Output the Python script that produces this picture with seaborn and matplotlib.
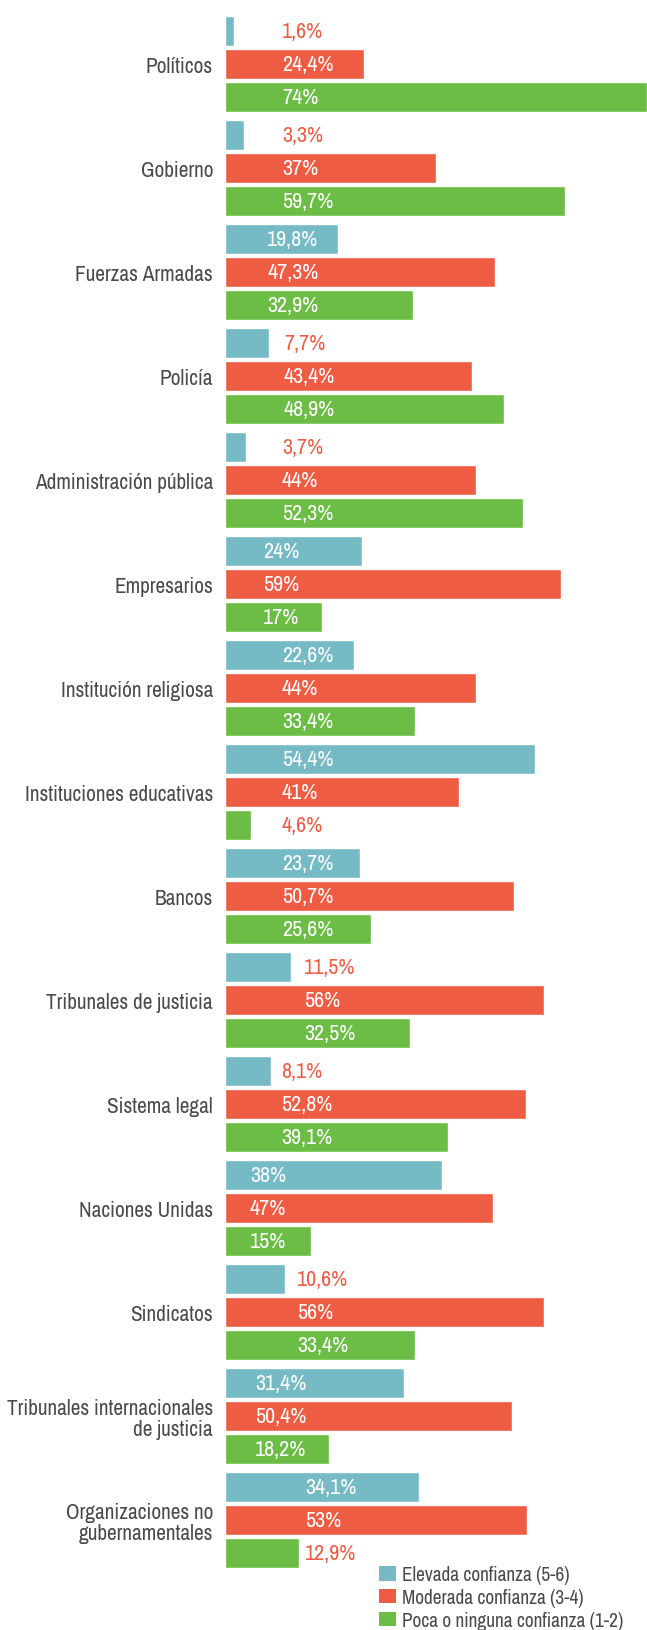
import matplotlib
matplotlib.use("Agg")
import matplotlib.pyplot as plt
from matplotlib import font_manager
from matplotlib.patches import Patch
import seaborn as sns
import pandas as pd

# --- data -------------------------------------------------------------
categorias = [
    "Políticos", "Gobierno", "Fuerzas Armadas", "Policía",
    "Administración pública", "Empresarios", "Institución religiosa",
    "Instituciones educativas", "Bancos", "Tribunales de justicia",
    "Sistema legal", "Naciones Unidas", "Sindicatos",
    "Tribunales internacionales\nde justicia",
    "Organizaciones no\ngubernamentales",
]
elevada = [1.6, 3.3, 19.8, 7.7, 3.7, 24, 22.6, 54.4, 23.7, 11.5, 8.1, 38, 10.6, 31.4, 34.1]
moderada = [24.4, 37, 47.3, 43.4, 44, 59, 44, 41, 50.7, 56, 52.8, 47, 56, 50.4, 53]
poca = [74, 59.7, 32.9, 48.9, 52.3, 17, 33.4, 4.6, 25.6, 32.5, 39.1, 15, 33.4, 18.2, 12.9]
series = ["Elevada confianza (5-6)", "Moderada confianza (3-4)", "Poca o ninguna confianza (1-2)"]

# --- layout -----------------------------------------------------------
W, H, DPI = 647, 1631, 100
AX_LEFT_PX = 225
XMAX = 74
GROUP_PX = 104          # vertical period of one category
FIRST_CENTER_PX = 65    # centre of the first category (middle bar)
# left edge (px) where each group's value labels start
label_x_px = [282, 282, 267, 284, 282, 263, 282, 282, 282, 304, 281, 250, 297, 255, 305]

colors = ["#76BAC6", "#EE5C43", "#6BBD45"]
text_gray = "#4A4A4A"
label_red = "#EE5C43"

sns.set_theme(style="white")

# prefer a condensed sans; otherwise an Arial-metric sans at a smaller size
names = sorted({f.name for f in font_manager.fontManager.ttflist})
narrow = [n for n in names if ("Narrow" in n or "Condensed" in n) and "Mono" not in n]
if narrow:
    family, fs_cat, fs_val, fs_leg = narrow[0], 15.3, 15.9, 13.9
else:
    family, fs_cat, fs_val, fs_leg = "Liberation Sans", 12.9, 13.3, 12.4
plt.rcParams["font.family"] = [family, "DejaVu Sans"]

rows = []
for i, c in enumerate(categorias):
    for s, vals in zip(series, (elevada, moderada, poca)):
        rows.append({"categoria": c, "serie": s, "valor": vals[i]})
df = pd.DataFrame(rows)

fig = plt.figure(figsize=(W / DPI, H / DPI), dpi=DPI)
ax = fig.add_axes([AX_LEFT_PX / W, 0, 1 - AX_LEFT_PX / W, 1])

sns.barplot(
    data=df, y="categoria", x="valor", hue="serie", order=categorias,
    hue_order=series, palette=colors, orient="h", width=99 / 104, gap=0.09,
    saturation=1, legend=False, ax=ax, errorbar=None,
)

ax.set_xlim(0, XMAX)
y_top = (0 - FIRST_CENTER_PX) / GROUP_PX
y_bot = (H - FIRST_CENTER_PX) / GROUP_PX
ax.set_ylim(y_bot, y_top)
for sp in ax.spines.values():
    sp.set_visible(False)
ax.set_xticks([])
ax.set_xlabel("")
ax.set_ylabel("")
ax.tick_params(axis="y", length=0, pad=8.6)
ax.set_yticks(range(len(categorias)))
ax.set_yticklabels(categorias, fontsize=fs_cat, color=text_gray, linespacing=1.05,
                   ha="right")

px_per_unit = (W - AX_LEFT_PX) / XMAX


def fmt(v):
    if float(v).is_integer():
        return f"{int(v)}%"
    return f"{v:.1f}%".replace(".", ",")


fig.canvas.draw()
renderer = fig.canvas.get_renderer()
slot = (99 / 104) / 3
for i in range(len(categorias)):
    x0 = (label_x_px[i] - AX_LEFT_PX) / px_per_unit
    for j, vals in enumerate((elevada, moderada, poca)):
        v = vals[i]
        yc = i + (j - 1) * slot
        t = ax.text(x0, yc, fmt(v), fontsize=fs_val, va="center", ha="left",
                    color="white")
        bb = t.get_window_extent(renderer=renderer)
        bar_end_px = fig.bbox.x0 + AX_LEFT_PX + v * px_per_unit
        if bb.x1 + 2 > bar_end_px:
            t.set_color(label_red)

handles = [Patch(facecolor=c, edgecolor="none") for c in colors]
fig.legend(
    handles, series, loc="upper left",
    bbox_to_anchor=(379 / W, 1 - 1566 / H), frameon=False,
    fontsize=fs_leg, handlelength=0.86, handleheight=0.78, handletextpad=0.33,
    labelspacing=0.2, borderpad=0, borderaxespad=0, labelcolor=text_gray,
)

fig.savefig("out.png", dpi=DPI)
